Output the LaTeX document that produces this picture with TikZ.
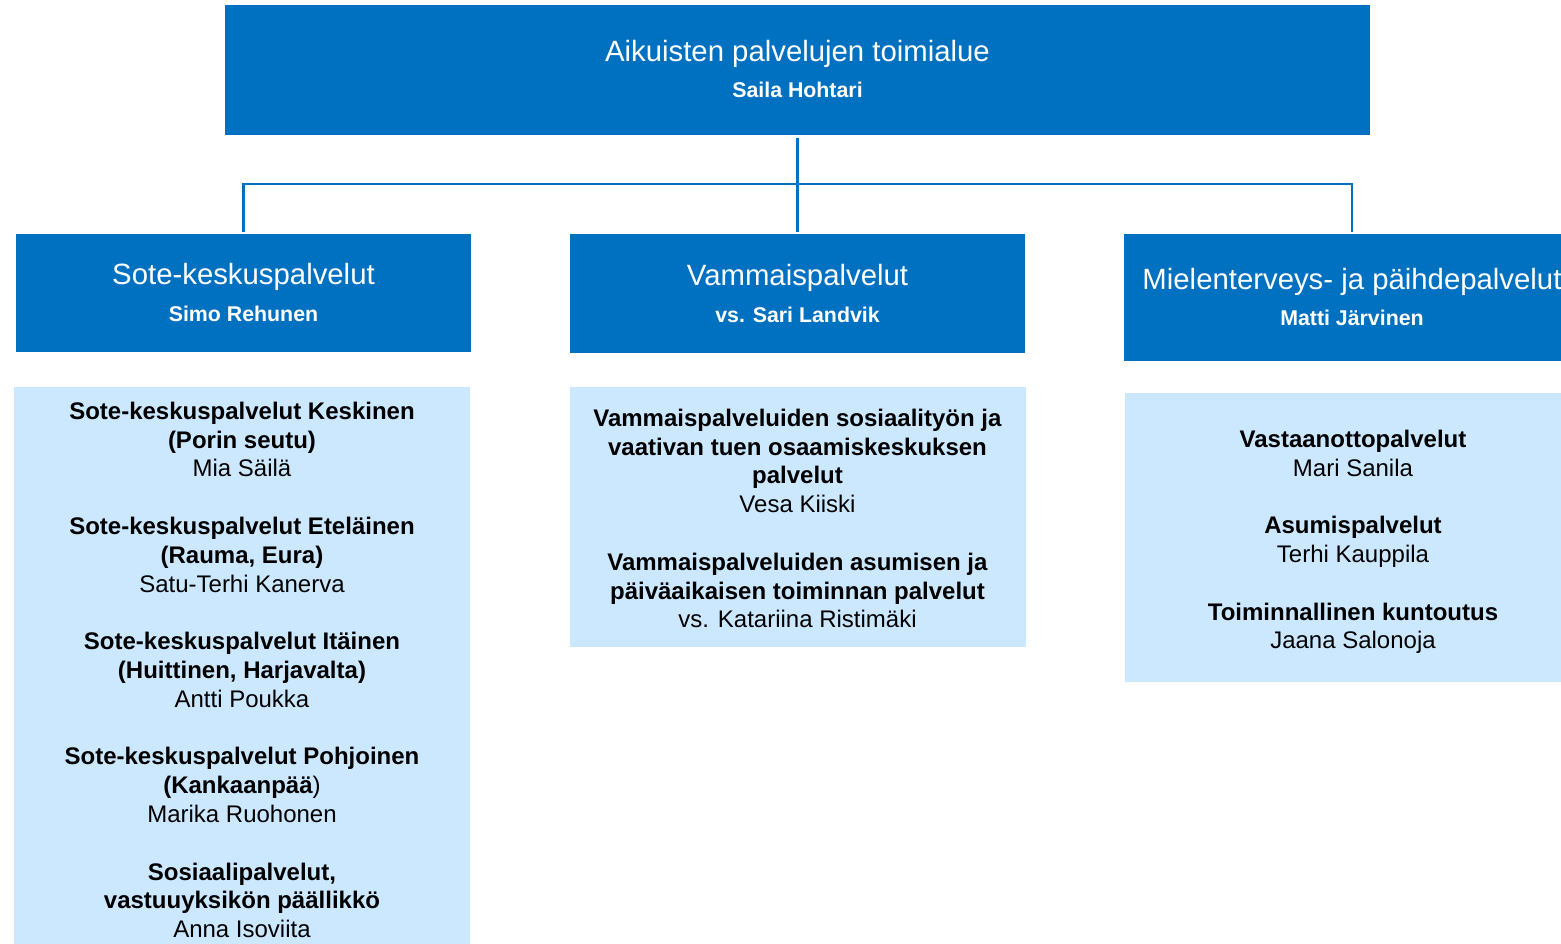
\documentclass[tikz,border=0pt]{standalone}
\usepackage{fontspec}
\setmainfont{Liberation Sans}
\usetikzlibrary{fit}
\definecolor{dkblue}{HTML}{0070C0}
\definecolor{ltblue}{HTML}{CCE8FF}
\begin{document}
\begin{tikzpicture}[x=0.75pt,y=-0.75pt,
  darkbox/.style={fill=dkblue, draw=none, inner sep=0pt, outer sep=0pt},
  lightbox/.style={fill=ltblue, draw=none, inner sep=0pt, outer sep=0pt},
  headtxt/.style={text=white, font=\fontsize{22}{26}\selectfont, anchor=base, inner sep=0pt},
  nametxt/.style={text=white, font=\fontsize{16}{19}\selectfont\bfseries, anchor=base, inner sep=0pt},
  bodytxt/.style={align=center, anchor=north, inner sep=0pt, text=black, font=\fontsize{18}{21.6}\selectfont},
  conn/.style={draw=dkblue, line width=1.8pt, line join=miter}]
\useasboundingbox (0,0) rectangle (1561,944);
\clip (0,0) rectangle (1561,944);
\fill[white] (0,0) rectangle (1561,944);

% top box
\node[darkbox, fit={(225,5) (1370,135)}] (top) {};
\node[headtxt] (toptitle) at (797.5,62) {Aikuisten palvelujen toimialue};
\node[nametxt] (topname) at (797.5,98) {Saila Hohtari};

% second level
\node[darkbox, fit={(16,234) (471,352.5)}] (left) {};
\node[headtxt] (lefttitle) at (243.5,285) {Sote-keskuspalvelut};
\node[nametxt] (leftname) at (243.5,321.5) {Simo Rehunen};

\node[darkbox, fit={(570,234) (1025,353.5)}] (mid) {};
\node[headtxt] (midtitle) at (797.5,286) {Vammaispalvelut};
\node[nametxt] (midname) at (797.5,322.5) {vs. Sari Landvik};

\node[darkbox, fit={(1124,234) (1580,361.5)}] (right) {};
\node[headtxt] (righttitle) at (1352,290) {Mielenterveys- ja päihdepalvelut};
\node[nametxt] (rightname) at (1352,326) {Matti Järvinen};

% connectors
\coordinate (bus) at (797.5,184);
\draw[conn, shorten <=2.2pt, shorten >=1.5pt] (top.south) -- (mid.north);
\draw[conn, shorten <=1.5pt, shorten >=1.5pt] (left.north) |- (bus) -| (right.north);

% light boxes
\node[lightbox, fit={(14,387) (469.5,950)}] (leftlist) {};
\node[lightbox, fit={(570,387) (1026,647)}] (midlist) {};
\node[lightbox, fit={(1125,393) (1580,682)}] (rightlist) {};

\node[bodytxt] (lefttext) at (242,398.8) {%
\strut\textbf{Sote-keskuspalvelut Keskinen}\\
\textbf{(Porin seutu)}\\
Mia Säilä\\
\strut\\
\textbf{Sote-keskuspalvelut Eteläinen}\\
\textbf{(Rauma, Eura)}\\
Satu-Terhi Kanerva\\
\strut\\
\textbf{Sote-keskuspalvelut Itäinen}\\
\textbf{(Huittinen, Harjavalta)}\\
Antti Poukka\\
\strut\\
\textbf{Sote-keskuspalvelut Pohjoinen}\\
\textbf{(Kankaanpää})\\
Marika Ruohonen\\
\strut\\
\textbf{Sosiaalipalvelut,}\\
\textbf{vastuuyksikön päällikkö}\\
Anna Isoviita\strut};

\node[bodytxt] (midtext) at (797.5,405.8) {%
\strut\textbf{Vammaispalveluiden sosiaalityön ja}\\
\textbf{vaativan tuen osaamiskeskuksen}\\
\textbf{palvelut}\\
Vesa Kiiski\\
\strut\\
\textbf{Vammaispalveluiden asumisen ja}\\
\textbf{päiväaikaisen toiminnan palvelut}\\
vs. Katariina Ristimäki\strut};

\node[bodytxt] (righttext) at (1353,426.8) {%
\strut\textbf{Vastaanottopalvelut}\\
Mari Sanila\\
\strut\\
\textbf{Asumispalvelut}\\
Terhi Kauppila\\
\strut\\
\textbf{Toiminnallinen kuntoutus}\\
Jaana Salonoja\strut};
\end{tikzpicture}
\end{document}
